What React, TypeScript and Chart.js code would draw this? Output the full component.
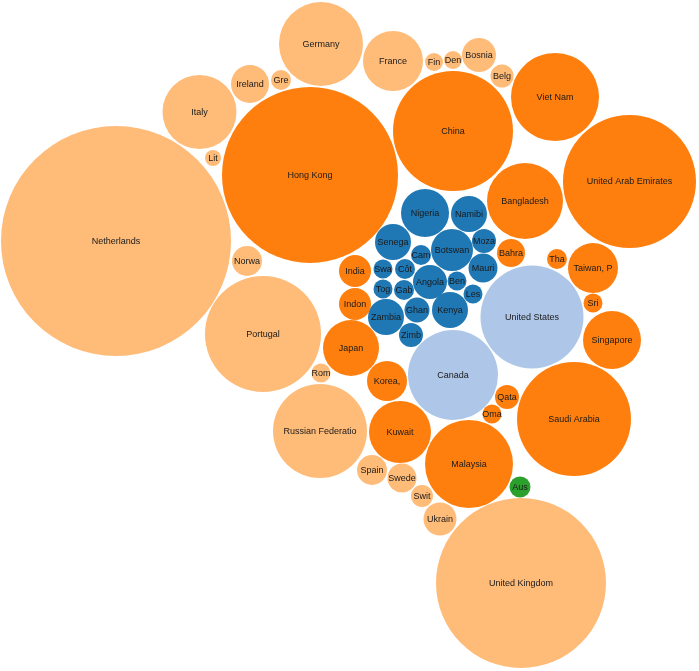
import React, { useEffect, useRef } from 'react';
import { Chart, registerables } from 'chart.js';

Chart.register(...registerables);

// Bubble layout values (x, y in layout units, r = bubble radius)
const names = [
  'Netherlands', 'Italy', 'Ireland', 'Gre', 'Lit', 'Norwa', 'Portugal', 'Germany', 'France', 'Fin',
  'Den', 'Bosnia', 'Belg', 'Rom', 'Russian Federatio', 'Spain', 'Swede', 'Swit', 'Ukrain', 'United Kingdom',
  'Hong Kong', 'China', 'Viet Nam', 'United Arab Emirates', 'Bangladesh', 'Bahra', 'Tha', 'Taiwan, P', 'Sri', 'Singapore',
  'Saudi Arabia', 'India', 'Indon', 'Japan', 'Korea,', 'Kuwait', 'Malaysia', 'Qata', 'Oma',
  'Nigeria', 'Namibi', 'Senega', 'Botswan', 'Moza', 'Cam', 'Swa', 'Côt', 'Mauri', 'Angola',
  'Ben', 'Tog', 'Gab', 'Les', 'Zambia', 'Ghan', 'Kenya', 'Zimb',
  'United States', 'Canada',
  'Aus',
];

const xs = [
  116, 199.5, 250, 281, 213, 247, 263, 321, 393, 434,
  453, 479, 502, 321, 320, 372, 402, 422, 440, 521,
  310, 453, 555, 629.5, 525, 511, 557, 593, 593, 612,
  574, 355, 355, 351, 387, 400, 469, 507, 492,
  425, 469, 393, 452, 484, 421, 383, 405, 483, 430,
  457, 383, 404, 473, 386, 417, 450, 411,
  532, 453,
  520,
];

const ys = [
  241, 112, 84, 80, 158, 261, 334, 44, 61, 62,
  60, 55, 76, 373, 431, 470, 478, 496, 519, 583,
  175, 131, 97, 181.5, 201, 253, 259, 268, 303, 340,
  419, 271, 304, 348, 381, 432, 464, 397, 414,
  213, 214, 242, 250, 241, 255, 269, 269, 268, 282,
  281, 289, 290, 294, 317, 310, 310, 335,
  317, 375,
  487,
];

const radii = [
  115, 37, 19, 10, 8, 15, 58, 42, 30, 9,
  9, 17, 11.5, 9.5, 47, 15, 14.5, 11, 16.5, 85,
  88, 60, 44, 66.5, 38, 14, 10, 25, 9.5, 29,
  57, 16, 16, 28, 20, 31, 44, 12, 9.5,
  24, 18, 18, 21, 12, 10, 9.5, 10, 14.5, 17,
  9.5, 9.5, 10, 9.5, 18, 12.5, 18, 12,
  51.5, 45,
  10.5,
];

const groups = [
  0, 0, 0, 0, 0, 0, 0, 0, 0, 0,
  0, 0, 0, 0, 0, 0, 0, 0, 0, 0,
  1, 1, 1, 1, 1, 1, 1, 1, 1, 1,
  1, 1, 1, 1, 1, 1, 1, 1, 1,
  2, 2, 2, 2, 2, 2, 2, 2, 2, 2,
  2, 2, 2, 2, 2, 2, 2, 2,
  3, 3,
  4,
];

const groupNames = ['Europe', 'Asia', 'Africa', 'Americas', 'Oceania'];
const groupColors = ['#ffbb78', '#ff7f0e', '#1f77b4', '#aec7e8', '#2ca02c'];

const W = 699;
const H = 671;

const labelPlugin = {
  id: 'bubbleLabels',
  afterDatasetsDraw(chart: any) {
    const ctx = chart.ctx;
    ctx.save();
    ctx.font = '9px "Liberation Sans", Arial, Helvetica, sans-serif';
    ctx.fillStyle = '#1a1a1a';
    ctx.textAlign = 'center';
    ctx.textBaseline = 'middle';
    chart.data.datasets.forEach((ds: any, di: number) => {
      const meta = chart.getDatasetMeta(di);
      meta.data.forEach((el: any, i: number) => {
        ctx.fillText(ds.data[i].label, el.x, el.y + 0.5);
      });
    });
    ctx.restore();
  },
};

export default function App() {
  const ref = useRef<HTMLCanvasElement | null>(null);

  useEffect(() => {
    document.body.style.margin = '0';
    const canvas = ref.current;
    if (!canvas) return;

    const datasets = groupNames.map((g, gi) => {
      const data: any[] = [];
      names.forEach((n, i) => {
        if (groups[i] === gi) data.push({ x: xs[i], y: ys[i], r: radii[i], label: n });
      });
      return {
        label: g,
        data,
        backgroundColor: groupColors[gi],
        borderWidth: 0,
        hoverBorderWidth: 0,
        hoverRadius: 0,
        clip: false as any,
      };
    });

    const chart = new Chart(canvas, {
      type: 'bubble',
      data: { datasets },
      options: {
        responsive: false,
        animation: false,
        maintainAspectRatio: false,
        layout: { padding: 0, autoPadding: false } as any,
        events: [],
        plugins: {
          legend: { display: false },
          tooltip: { enabled: false },
        },
        scales: {
          x: { type: 'linear', min: 0, max: W, display: false },
          y: { type: 'linear', min: 0, max: H, reverse: true, display: false },
        },
      },
      plugins: [labelPlugin],
    });

    return () => chart.destroy();
  }, []);

  return (
    <div style={{ width: W, height: H }}>
      <canvas ref={ref} width={W} height={H} style={{ display: 'block', width: W, height: H }} />
    </div>
  );
}
